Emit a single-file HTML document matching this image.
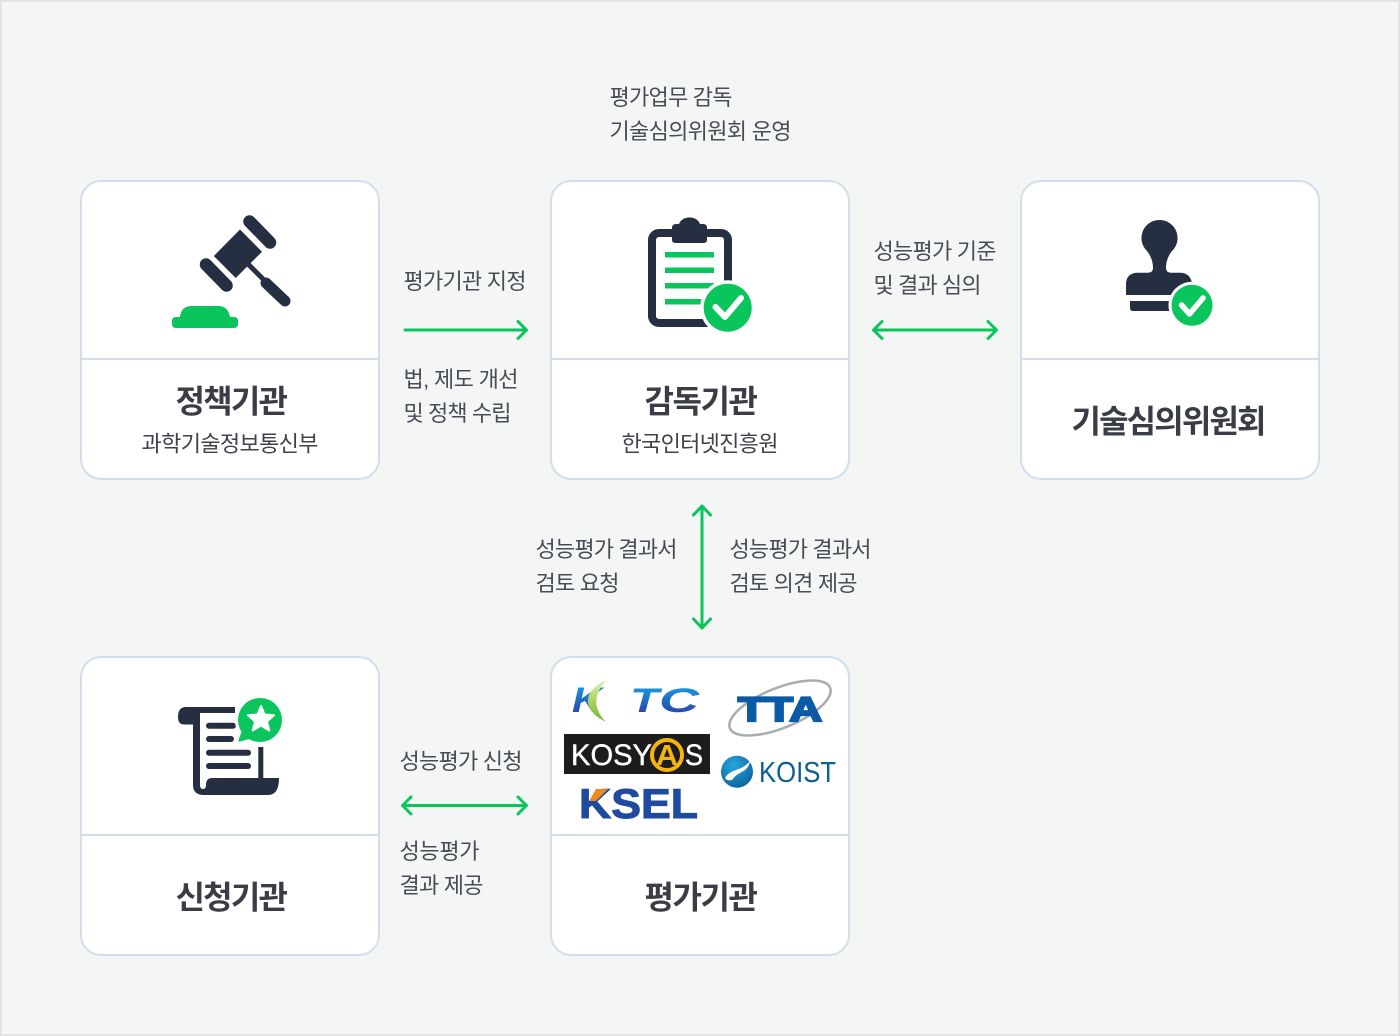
<!DOCTYPE html>
<html lang="ko"><head><meta charset="utf-8"><title>평가 체계</title>
<style>
html,body{margin:0;padding:0;width:1400px;height:1036px;overflow:hidden;background:#f4f6f5}
svg{display:block}
text{font-family:"Liberation Sans","Noto Sans CJK KR",sans-serif}
.l{font-size:22px;fill:#484c55;font-weight:400}
.t{font-size:32px;fill:#3a3d45;font-weight:700}
.s{font-size:22px;fill:#3f424a;font-weight:400}
.c{fill:#fff;stroke:#d3deeb;stroke-width:2}
.d{stroke:#d3deeb;stroke-width:2}
.a{fill:none;stroke:#0ac45c;stroke-width:3;stroke-linecap:round;stroke-linejoin:round}
.n{fill:none;stroke:#262e42;stroke-linecap:round}
</style></head><body>
<svg width="1400" height="1036" viewBox="0 0 1400 1036" xmlns="http://www.w3.org/2000/svg">
<defs>
<linearGradient id="kb" x1="0" y1="0" x2="0" y2="1"><stop offset="0" stop-color="#15a9e8"/><stop offset="1" stop-color="#2b2f9e"/></linearGradient>
<linearGradient id="kg" x1="0" y1="0" x2="0" y2="1"><stop offset="0" stop-color="#e4efc0"/><stop offset=".5" stop-color="#a9d45a"/><stop offset="1" stop-color="#6cbb2c"/></linearGradient>
<radialGradient id="ko" cx=".4" cy=".3" r=".8"><stop offset="0" stop-color="#27a7e0"/><stop offset="1" stop-color="#0a5c98"/></radialGradient>
</defs>
<rect x="1" y="1" width="1398" height="1034" fill="#f4f6f5" stroke="#e3e5e5" stroke-width="2"/>

<!-- cards -->
<rect class="c" x="81" y="181" width="298" height="298" rx="20"/><line class="d" x1="81" x2="379" y1="359" y2="359"/>
<rect class="c" x="551" y="181" width="298" height="298" rx="20"/><line class="d" x1="551" x2="849" y1="359" y2="359"/>
<rect class="c" x="1021" y="181" width="298" height="298" rx="20"/><line class="d" x1="1021" x2="1319" y1="359" y2="359"/>
<rect class="c" x="81" y="657" width="298" height="298" rx="20"/><line class="d" x1="81" x2="379" y1="835" y2="835"/>
<rect class="c" x="551" y="657" width="298" height="298" rx="20"/><line class="d" x1="551" x2="849" y1="835" y2="835"/>

<!-- gavel -->
<polygon points="240,229.500 262,251.700 235.700,278 213.800,256" fill="#262e42"/>
<line class="n" x1="249.500" y1="221.500" x2="270" y2="242.500" stroke-width="12.500"/>
<line class="n" x1="206" y1="264.500" x2="226.500" y2="285.500" stroke-width="12.500"/>
<line x1="248" y1="264" x2="268" y2="284" stroke="#262e42" stroke-width="5"/>
<line class="n" x1="266" y1="283" x2="285" y2="301" stroke-width="11"/>
<path d="M180 317 Q181 306 192 306 H218 Q228 306 230 317 H234 Q238 317 238 321 V324 Q238 328 234 328 H176 Q172 328 172 324 V321 Q172 317 176 317Z" fill="#0ac45c"/>

<!-- clipboard -->
<rect x="652" y="233" width="76" height="90" rx="7" fill="none" stroke="#262e42" stroke-width="8"/>
<path d="M672 228 Q672 224 676 224 H679 A11 9.500 0 0 1 700 224 H703 Q707 224 707 228 V240 Q707 243 703 243 H676 Q672 243 672 240Z" fill="#262e42"/>
<g fill="#0ac45c"><rect x="665" y="252" width="49" height="5.500"/><rect x="665" y="267.500" width="49" height="5.500"/><rect x="665" y="283" width="49" height="5.500"/><rect x="665" y="299" width="49" height="5.500"/></g>
<circle cx="727.700" cy="307.700" r="27.500" fill="#fff"/><circle cx="727.700" cy="307.700" r="24" fill="#0ac45c"/>
<path d="M715.500 307 L725 317 L741 298" fill="none" stroke="#fff" stroke-width="6" stroke-linecap="round" stroke-linejoin="round"/>

<!-- stamp -->
<path d="M1159.300 220 A18 18 0 0 1 1172 251 C1168 256 1166 262 1166 268 Q1166 272.700 1171 272.700 H1180 Q1190 272.700 1192 283 V295 H1126 V283 Q1127 272.700 1138 272.700 H1148 Q1153 272.700 1153 268 C1153 262 1151 256 1147 251 A18 18 0 0 1 1159.300 220Z" fill="#262e42"/>
<path d="M1130 301 H1172 V311 H1133 Q1130 311 1130 308Z" fill="#262e42"/>
<circle cx="1192" cy="305.300" r="23.500" fill="#fff"/><circle cx="1192" cy="305.300" r="20.500" fill="#0ac45c"/>
<path d="M1181.500 305 L1189.500 314 L1203 298" fill="none" stroke="#fff" stroke-width="5.500" stroke-linecap="round" stroke-linejoin="round"/>

<!-- scroll -->
<path d="M186 707 H235 V713 H200 V785 Q200 789 203 789 Q206 789 206 785 Q206 778 212 778 H279 Q279 795 268 795 H204 Q193 795 193 785 V724.500 H184 Q178 724.500 178 717 Q178 707 186 707Z" fill="#262e42"/>
<rect x="258.300" y="747" width="5" height="33" fill="#262e42"/>
<g class="n" stroke-width="6"><line x1="209" x2="233" y1="725.700" y2="725.700"/><line x1="209" x2="231" y1="739" y2="739"/><line x1="209" x2="248" y1="752.700" y2="752.700"/><line x1="209" x2="248" y1="766" y2="766"/></g>
<circle cx="260" cy="720" r="25" fill="#fff"/>
<circle cx="260" cy="720" r="22" fill="#0ac45c"/>
<path d="M243 728 L238.500 740 Q238 742 240 741.500 L253 738Z" fill="#0ac45c"/>
<polygon points="261,706 264.500,714.500 274,715.200 267,721.500 269.300,730.500 261,725.500 252.700,730.500 255,721.500 248,715.200 257.500,714.500" fill="#fff" stroke="#fff" stroke-width="2" stroke-linejoin="round"/>

<!-- logos -->
<text x="572" y="712" font-size="35" font-weight="700" font-style="italic" fill="url(#kb)" textLength="30" lengthAdjust="spacingAndGlyphs">K</text>
<path d="M607 680 C586 688 578 708 606 722 C596 712 590 697 607 680Z" fill="url(#kg)"/>
<text x="630" y="712" font-size="34" font-weight="700" font-style="italic" fill="url(#kb)" textLength="29" lengthAdjust="spacingAndGlyphs">T</text>
<text x="659" y="712" font-size="34" font-weight="700" font-style="italic" fill="url(#kb)" textLength="40" lengthAdjust="spacingAndGlyphs">C</text>

<ellipse cx="780" cy="708" rx="54" ry="20" transform="rotate(-22 780 708)" fill="none" stroke="#a9adb0" stroke-width="2.500"/>
<text x="738" y="721" font-size="34" font-weight="700" fill="#0b5aa5" stroke="#0b5aa5" stroke-width="2.200" textLength="84" lengthAdjust="spacingAndGlyphs">TTA</text>

<rect x="564" y="734" width="146" height="40" fill="#1c1c1c"/>
<text x="571" y="765" font-size="30" fill="#fff" stroke="#fff" stroke-width=".4" textLength="81" lengthAdjust="spacingAndGlyphs">KOSY</text>
<circle cx="667" cy="755" r="15" fill="none" stroke="#f6b40e" stroke-width="4"/>
<text x="656" y="765" font-size="29" font-weight="700" fill="#f6b40e" textLength="22" lengthAdjust="spacingAndGlyphs">A</text>
<text x="685" y="765" font-size="30" fill="#fff" stroke="#fff" stroke-width=".4" textLength="18" lengthAdjust="spacingAndGlyphs">S</text>

<text x="579" y="818" font-size="42" font-weight="700" fill="#1e4aa0" stroke="#1e4aa0" stroke-width="1" textLength="119" lengthAdjust="spacingAndGlyphs">KSEL</text>
<path d="M596 789 H608 L596 801 H589Z" fill="#f08a1c"/>

<circle cx="737" cy="771.700" r="16" fill="url(#ko)"/>
<path d="M725 778 C731 768 741 772 750 761 C748 773 738 771 733 779 C731 781 727 781 725 778Z" fill="#fff"/>
<text x="759" y="782" font-size="29" fill="#0b5f95" textLength="77" lengthAdjust="spacingAndGlyphs">KOIST</text>

<!-- arrows -->
<path class="a" d="M405 330 H526 M518 321.500 L526.500 330 L518 338.500"/>
<path class="a" d="M874 330 H996.500 M882 321.500 L873.500 330 L882 338.500 M988 321.500 L996.500 330 L988 338.500"/>
<path class="a" d="M702 506 V628 M693.500 515 L702 506 L710.500 515 M693.500 619 L702 628 L710.500 619"/>
<path class="a" d="M403 805.500 H526 M411 797 L402.500 805.500 L411 814 M518 797 L526.500 805.500 L518 814"/>

<!-- labels -->
<text class="l" x="609.500" y="105" textLength="123">평가업무 감독</text>
<text class="l" x="609.500" y="139" textLength="182">기술심의위원회 운영</text>
<text class="l" x="403.500" y="289" textLength="123">평가기관 지정</text>
<text class="l" x="403.500" y="387" textLength="115">법, 제도 개선</text>
<text class="l" x="403.500" y="421" textLength="108">및 정책 수립</text>
<text class="l" x="873.500" y="259" textLength="123">성능평가 기준</text>
<text class="l" x="873.500" y="293" textLength="108">및 결과 심의</text>
<text class="l" x="535.500" y="557" textLength="142">성능평가 결과서</text>
<text class="l" x="535.500" y="591" textLength="84">검토 요청</text>
<text class="l" x="729.500" y="557" textLength="142">성능평가 결과서</text>
<text class="l" x="729.500" y="591" textLength="128">검토 의견 제공</text>
<text class="l" x="399.500" y="769" textLength="123">성능평가 신청</text>
<text class="l" x="399.500" y="859" textLength="80">성능평가</text>
<text class="l" x="399.500" y="893" textLength="84">결과 제공</text>

<text class="t" x="175.500" y="412.500" textLength="112.500">정책기관</text>
<text class="s" x="141.500" y="451.500" textLength="177">과학기술정보통신부</text>
<text class="t" x="644.500" y="412.500" textLength="113.500">감독기관</text>
<text class="s" x="621.500" y="451.500" textLength="157">한국인터넷진흥원</text>
<text class="t" x="1071.500" y="432.500" textLength="195">기술심의위원회</text>
<text class="t" x="175.500" y="908.500" textLength="112.500">신청기관</text>
<text class="t" x="644.500" y="908.500" textLength="113.500">평가기관</text>
</svg>
</body></html>
